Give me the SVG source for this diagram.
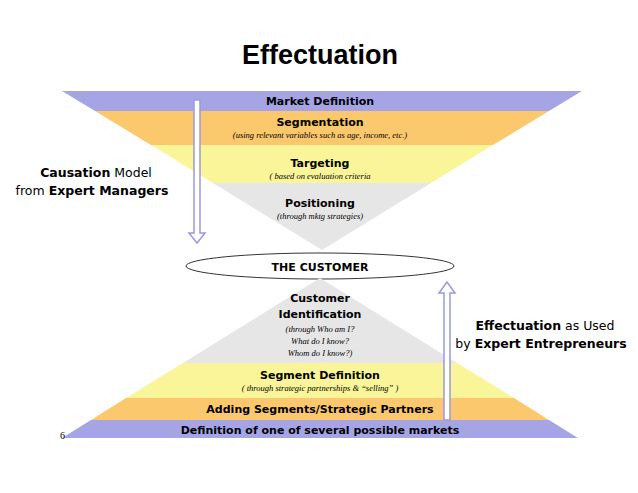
<svg xmlns="http://www.w3.org/2000/svg" width="638" height="493" viewBox="0 0 638 493">
<style>
.h{font-family:"DejaVu Sans","Liberation Sans",sans-serif;font-weight:bold;font-size:11px;fill:#000;text-anchor:middle}
.s{font-family:"Liberation Serif",serif;font-style:italic;font-size:8.5px;fill:#000;text-anchor:middle}
.l{font-family:"DejaVu Sans","Liberation Sans",sans-serif;font-size:12.5px;fill:#000;text-anchor:middle}
.arr{fill:#fff;stroke:#9999dd;stroke-width:1.5}
</style>
<rect width="638" height="493" fill="#fff"/>
<text x="320" y="64" font-family="Liberation Sans,sans-serif" font-weight="bold" font-size="27" text-anchor="middle">Effectuation</text>
<g id="top-funnel">
<polygon points="62,91 582,91 549,111 95,111" fill="#a5a5e6"/>
<polygon points="95,111 549,111 493,145 151,145" fill="#fbc86e"/>
<polygon points="151,145 493,145 431,183 213,183" fill="#fbf59a"/>
<polygon points="213,183 431,183 322,250" fill="#e6e6e6"/>
<text class="h" x="320" y="105">Market Definition</text>
<text class="h" x="320" y="126">Segmentation</text>
<text class="s" x="320" y="138">(using relevant variables such as age, income, etc.)</text>
<text class="h" x="320" y="167">Targeting</text>
<text class="s" x="320" y="179">( based on evaluation criteria</text>
<text class="h" x="320" y="207">Positioning</text>
<text class="s" x="320" y="219">(through mktg strategies)</text>
</g>
<g id="customer">
<ellipse cx="320" cy="266" rx="134" ry="13" fill="#fff" stroke="#000" stroke-width="0.8"/>
<text class="h" x="320" y="271" font-size="12">THE CUSTOMER</text>
</g>
<g id="bottom-pyramid">
<polygon points="320,278 457,363 183,363" fill="#e6e6e6"/>
<polygon points="183,363 457,363 514,398 126,398" fill="#fbf59a"/>
<polygon points="126,398 514,398 549,420 91,420" fill="#fbc86e"/>
<polygon points="91,420 549,420 578,438 62,438" fill="#a5a5e6"/>
<text class="h" x="320" y="302">Customer</text>
<text class="h" x="320" y="318">Identification</text>
<text class="s" x="320" y="332">(through  Who am I?</text>
<text class="s" x="320" y="344">What do I know?</text>
<text class="s" x="320" y="356">Whom do I know?)</text>
<text class="h" x="320" y="379">Segment Definition</text>
<text class="s" x="320" y="391">( through strategic partnerships &amp; “selling” )</text>
<text class="h" x="320" y="413">Adding Segments/Strategic Partners</text>
<text class="h" x="320" y="434">Definition of one of several possible markets</text>
</g>
<g id="connectors">
<polygon class="arr" points="194,100 200,100 200,233 205,233 197,243 189,233 194,233"/>
<polygon class="arr" points="444,420 450,420 450,293 455,293 447,282 439,293 444,293"/>
</g>
<g id="labels">
<text class="l" x="96" y="177"><tspan font-weight="bold">Causation</tspan> Model</text>
<text class="l" x="92" y="195">from <tspan font-weight="bold">Expert Managers</tspan></text>
<text class="l" x="545" y="330"><tspan font-weight="bold">Effectuation</tspan> as Used</text>
<text class="l" x="541" y="348">by <tspan font-weight="bold">Expert Entrepreneurs</tspan></text>
<text x="60" y="439" font-family="Liberation Serif,serif" font-size="10">6</text>
</g>
</svg>
